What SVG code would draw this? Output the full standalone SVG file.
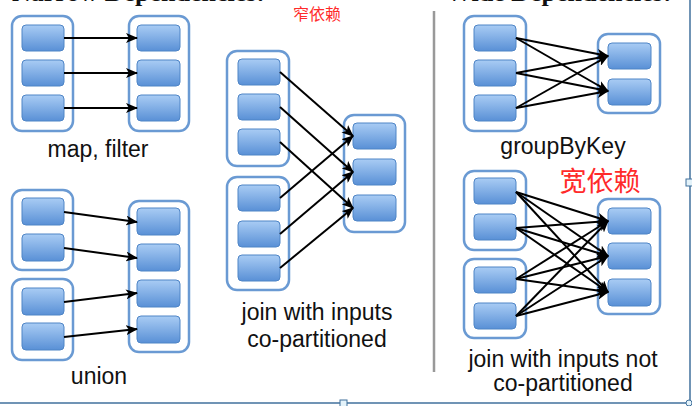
<svg xmlns="http://www.w3.org/2000/svg" width="692" height="406" viewBox="0 0 692 406">
<defs>
<linearGradient id="g" x1="0" y1="0" x2="0" y2="1">
<stop offset="0" stop-color="#a9ccf4"/>
<stop offset="1" stop-color="#5990d6"/>
</linearGradient>
<marker id="ah" markerUnits="userSpaceOnUse" markerWidth="12" markerHeight="10" refX="11" refY="5" orient="auto">
<path d="M0,0 L12,5 L0,10 L3,5 Z" fill="#000"/>
</marker>
<style>
.c{fill:#fff;stroke:#6a9ad3;stroke-width:2.5}
.b{fill:url(#g);stroke:#4f85c6;stroke-width:1}
.e line{stroke:#000;stroke-width:2;marker-end:url(#ah)}
.t{font-family:"Liberation Sans",Arial,sans-serif;font-size:23px;fill:#111;text-anchor:middle}
.h{font-family:"Liberation Serif","Times New Roman",serif;font-size:26px;font-weight:bold;fill:#111}
.r{font-family:"Noto Sans CJK SC",sans-serif;fill:#ff2a2a;text-anchor:middle}
</style>
</defs>
<rect width="692" height="406" fill="#fff"/>
<text class="h" x="12" y="1">Narrow Dependencies:</text>
<text class="h" x="446" y="1">Wide Dependencies:</text>
<line x1="434" y1="11" x2="434" y2="372" stroke="#999" stroke-width="2.5"/>

<g id="mf-src"><rect class="c" x="12" y="16" width="61" height="115" rx="10"/>
<rect class="b" x="22" y="25" width="42" height="26" rx="4"/><rect class="b" x="22" y="60" width="42" height="26" rx="4"/><rect class="b" x="22" y="95" width="42" height="26" rx="4"/></g>
<g id="mf-dst"><rect class="c" x="129" y="16" width="60" height="115" rx="10"/>
<rect class="b" x="137" y="25" width="43" height="26" rx="4"/><rect class="b" x="137" y="60" width="43" height="26" rx="4"/><rect class="b" x="137" y="95" width="43" height="26" rx="4"/></g>

<g id="un-src1"><rect class="c" x="12" y="190" width="61" height="80" rx="10"/>
<rect class="b" x="22" y="198" width="42" height="27" rx="4"/><rect class="b" x="22" y="234" width="42" height="27" rx="4"/></g>
<g id="un-src2"><rect class="c" x="12" y="279" width="61" height="81" rx="10"/>
<rect class="b" x="22" y="288" width="42" height="27" rx="4"/><rect class="b" x="22" y="323" width="42" height="27" rx="4"/></g>
<g id="un-dst"><rect class="c" x="129" y="201" width="60" height="151" rx="10"/>
<rect class="b" x="137" y="208" width="43" height="27" rx="4"/><rect class="b" x="137" y="244" width="43" height="27" rx="4"/><rect class="b" x="137" y="280" width="43" height="27" rx="4"/><rect class="b" x="137" y="316" width="43" height="27" rx="4"/></g>

<g id="jc-src1"><rect class="c" x="227" y="51" width="62" height="115" rx="10"/>
<rect class="b" x="238" y="59" width="42" height="26" rx="4"/><rect class="b" x="238" y="94" width="42" height="26" rx="4"/><rect class="b" x="238" y="129" width="42" height="26" rx="4"/></g>
<g id="jc-src2"><rect class="c" x="227" y="177" width="62" height="113" rx="10"/>
<rect class="b" x="238" y="185" width="42" height="26" rx="4"/><rect class="b" x="238" y="221" width="42" height="26" rx="4"/><rect class="b" x="238" y="255" width="42" height="26" rx="4"/></g>
<g id="jc-dst"><rect class="c" x="344" y="115" width="61" height="117" rx="10"/>
<rect class="b" x="353" y="123" width="43" height="26" rx="4"/><rect class="b" x="353" y="159" width="43" height="26" rx="4"/><rect class="b" x="353" y="195" width="43" height="26" rx="4"/></g>

<g id="gb-src"><rect class="c" x="464" y="16" width="62" height="115" rx="10"/>
<rect class="b" x="474" y="25" width="42" height="26" rx="4"/><rect class="b" x="474" y="60" width="42" height="26" rx="4"/><rect class="b" x="474" y="95" width="42" height="26" rx="4"/></g>
<g id="gb-dst"><rect class="c" x="598" y="34" width="62" height="79" rx="10"/>
<rect class="b" x="608" y="43" width="43" height="26" rx="4"/><rect class="b" x="608" y="79" width="43" height="26" rx="4"/></g>

<g id="jn-src1"><rect class="c" x="464" y="171" width="62" height="79" rx="10"/>
<rect class="b" x="474" y="178" width="42" height="26" rx="4"/><rect class="b" x="474" y="214" width="42" height="26" rx="4"/></g>
<g id="jn-src2"><rect class="c" x="464" y="259" width="62" height="79" rx="10"/>
<rect class="b" x="474" y="267" width="42" height="26" rx="4"/><rect class="b" x="474" y="303" width="42" height="26" rx="4"/></g>
<g id="jn-dst"><rect class="c" x="598" y="199" width="62" height="115" rx="10"/>
<rect class="b" x="608" y="208" width="43" height="26" rx="4"/><rect class="b" x="608" y="243" width="43" height="26" rx="4"/><rect class="b" x="608" y="279" width="43" height="27" rx="4"/></g>

<g id="edges" class="e">
<line x1="64" y1="38" x2="137" y2="38"/><line x1="64" y1="73" x2="137" y2="73"/><line x1="64" y1="108" x2="137" y2="108"/>
<line x1="64" y1="212" x2="137" y2="222"/><line x1="64" y1="248" x2="137" y2="258"/><line x1="64" y1="302" x2="137" y2="293"/><line x1="64" y1="337" x2="137" y2="329"/>
<line x1="280" y1="72" x2="353" y2="136"/><line x1="280" y1="107" x2="353" y2="172"/><line x1="280" y1="142" x2="353" y2="208"/>
<line x1="280" y1="198" x2="353" y2="136"/><line x1="280" y1="234" x2="353" y2="172"/><line x1="280" y1="268" x2="353" y2="208"/>
<line x1="516" y1="38" x2="608" y2="56"/><line x1="516" y1="38" x2="608" y2="91"/>
<line x1="516" y1="73" x2="608" y2="56"/><line x1="516" y1="73" x2="608" y2="91"/>
<line x1="516" y1="108" x2="608" y2="56"/><line x1="516" y1="108" x2="608" y2="91"/>
<line x1="516" y1="192" x2="608" y2="221"/><line x1="516" y1="192" x2="608" y2="256"/><line x1="516" y1="192" x2="608" y2="292"/>
<line x1="516" y1="228" x2="608" y2="221"/><line x1="516" y1="228" x2="608" y2="256"/><line x1="516" y1="228" x2="608" y2="292"/>
<line x1="516" y1="279" x2="608" y2="221"/><line x1="516" y1="279" x2="608" y2="256"/><line x1="516" y1="279" x2="608" y2="292"/>
<line x1="516" y1="316" x2="608" y2="221"/><line x1="516" y1="316" x2="608" y2="256"/><line x1="516" y1="316" x2="608" y2="292"/>
</g>

<text class="t" x="98" y="157">map, filter</text>
<text class="t" x="99" y="384">union</text>
<text class="t" x="317" y="320">join with inputs</text>
<text class="t" x="317" y="347">co-partitioned</text>
<text class="t" x="563" y="154">groupByKey</text>
<text class="t" x="563" y="367">join with inputs not</text>
<text class="t" x="563" y="391">co-partitioned</text>
<text class="r" x="317" y="20" font-size="16">窄依赖</text>
<text class="r" x="600" y="191" font-size="27">宽依赖</text>

<line x1="0" y1="403" x2="692" y2="403" stroke="#41719c" stroke-width="1.5"/>
<line x1="690" y1="0" x2="690" y2="403" stroke="#41719c" stroke-width="1.5"/>
<rect x="340" y="400" width="7" height="7" fill="#e4f3fa" stroke="#41719c" stroke-width="1"/>
<rect x="686" y="179" width="7" height="7" fill="#e4f3fa" stroke="#41719c" stroke-width="1"/>
<circle cx="689" cy="403" r="3" fill="#e4f3fa" stroke="#41719c" stroke-width="1"/>
</svg>
